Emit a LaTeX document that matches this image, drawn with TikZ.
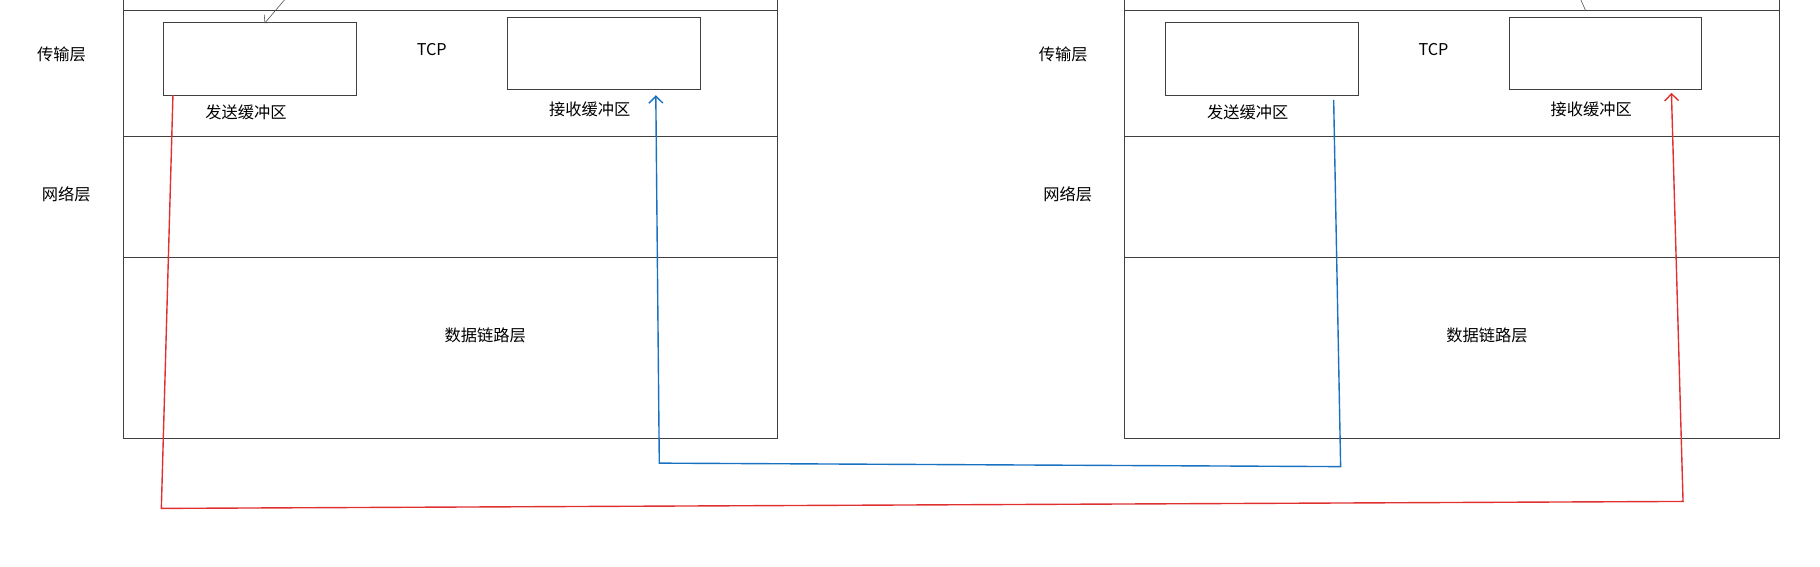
\documentclass[tikz,border=0pt]{standalone}
\usepackage{fontspec}
\setmainfont{Noto Sans CJK SC}
\begin{document}
\begin{tikzpicture}[x=1pt,y=-1pt,
  lay/.style={draw=black!75,line width=0.5pt},
  lbl/.style={font=\fontsize{14}{16}\selectfont,inner sep=0pt},
  red/.style={draw={rgb,255:red,224;green,49;blue,49},line width=1.2pt,-{Straight Barb[length=6pt]}},
  blu/.style={draw={rgb,255:red,25;green,113;blue,194},line width=1.2pt,-{Straight Barb[length=6pt]}}]
\useasboundingbox (0,0) rectangle (1568,488);
\foreach \o/\n in {0/L,863/R}{
  \begin{scope}[xshift=\o pt]
  \draw[lay] (106,0) -- (106,9) (670,0) -- (670,9);
  \draw[lay] (106,9) rectangle (670,117);
  \draw[lay] (106,117) rectangle (670,222);
  \draw[lay] (106,222) rectangle (670,378);
  \node[lay,minimum width=166pt,minimum height=63pt,inner sep=0pt] (send\n) at (224,50.5) {};
  \node[lay,minimum width=166pt,minimum height=62pt,inner sep=0pt] (recv\n) at (520,46) {};
  \node[lbl] (tcp\n) at (372,43) {TCP};
  \node[lbl] (sl\n) at (212,97) {发送缓冲区};
  \node[lbl] (rl\n) at (508,94) {接收缓冲区};
  \node[lbl] (t\n) at (53,47) {传输层};
  \node[lbl] (n\n) at (57,167) {网络层};
  \node[lbl] (d\n) at (418,289) {数据链路层};
  \end{scope}}
\usetikzlibrary{arrows.meta}
\coordinate (a0) at (245,0);
\draw[draw=black!70,line width=0.5pt,-{Straight Barb[length=5pt]}] (a0) -- (228,20);
\coordinate (b0) at (1362,0);
\draw[draw=black!70,line width=0.5pt] (b0) -- (1366,9);
\draw[red] (149,82) -- (139,438) -- (1450,432) -- (1440,80);
\draw[blu] (1149,86) -- (1155,402) -- (568,399) -- (565,82);
\end{tikzpicture}
\end{document}
